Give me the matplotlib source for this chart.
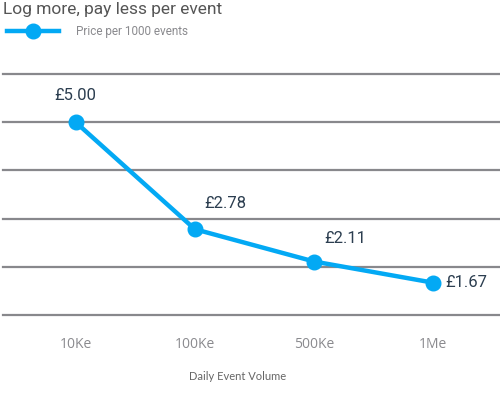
import matplotlib
matplotlib.use("Agg")
from matplotlib import pyplot as plt

volumes = ["10Ke", "100Ke", "500Ke", "1Me"]
prices = [5.00, 2.78, 2.11, 1.67]
price_labels = ["£5.00", "£2.78", "£2.11", "£1.67"]
grid_levels = [1, 2, 3, 4, 5, 6]

blue = "#03a9f4"

fig = plt.figure(figsize=(5, 3.93), dpi=100)
ax = fig.add_axes([0.006, 0.1985, 0.994, 0.613])

x = list(range(len(volumes)))
for g in grid_levels:
    ax.axhline(g, color="#88888c", linewidth=1.6, zorder=1, clip_on=False)

ax.plot(x, prices, color=blue, linewidth=3.2, marker="o", markersize=10.5,
        zorder=3, clip_on=False, label="Price per 1000 events")

# price labels next to points
offsets = [(0, 14, "center"), (7, 13, "left"), (7, 11, "left"), (9, 0, "left")]
for xi, yi, lab, (dx, dy, ha) in zip(x, prices, price_labels, offsets):
    ax.annotate(lab, (xi, yi), xytext=(dx, dy), textcoords="offset points",
                ha=ha, va="center" if dy == 0 else "bottom",
                fontsize=12, color="#2c3e50", family="Roboto")

ax.set_xlim(-0.61, 3.56)
ax.set_ylim(1, 6)
ax.set_xticks(x)
ax.set_xticklabels(volumes, fontsize=10, color="#8a8a8e", family="Open Sans")
ax.tick_params(axis="x", length=0, pad=16)
ax.set_yticks([])
for s in ax.spines.values():
    s.set_visible(False)

fig.text(0.006, 0.995, "Log more, pay less per event", ha="left", va="top",
         fontsize=12.5, color="#555555", family="Roboto")
fig.text(0.476, 0.043, "Daily Event Volume", ha="center", va="center",
         fontsize=8, color="#666666", family="Lato")

leg = fig.legend(loc="upper left", bbox_to_anchor=(0.0, 0.955), frameon=False,
                 handlelength=4.4, handletextpad=1.4,
                 prop={"family": "Roboto", "size": 8.5},
                 labelcolor="#8a8a8e", borderaxespad=0.2)

fig.savefig("out.png", dpi=100)
